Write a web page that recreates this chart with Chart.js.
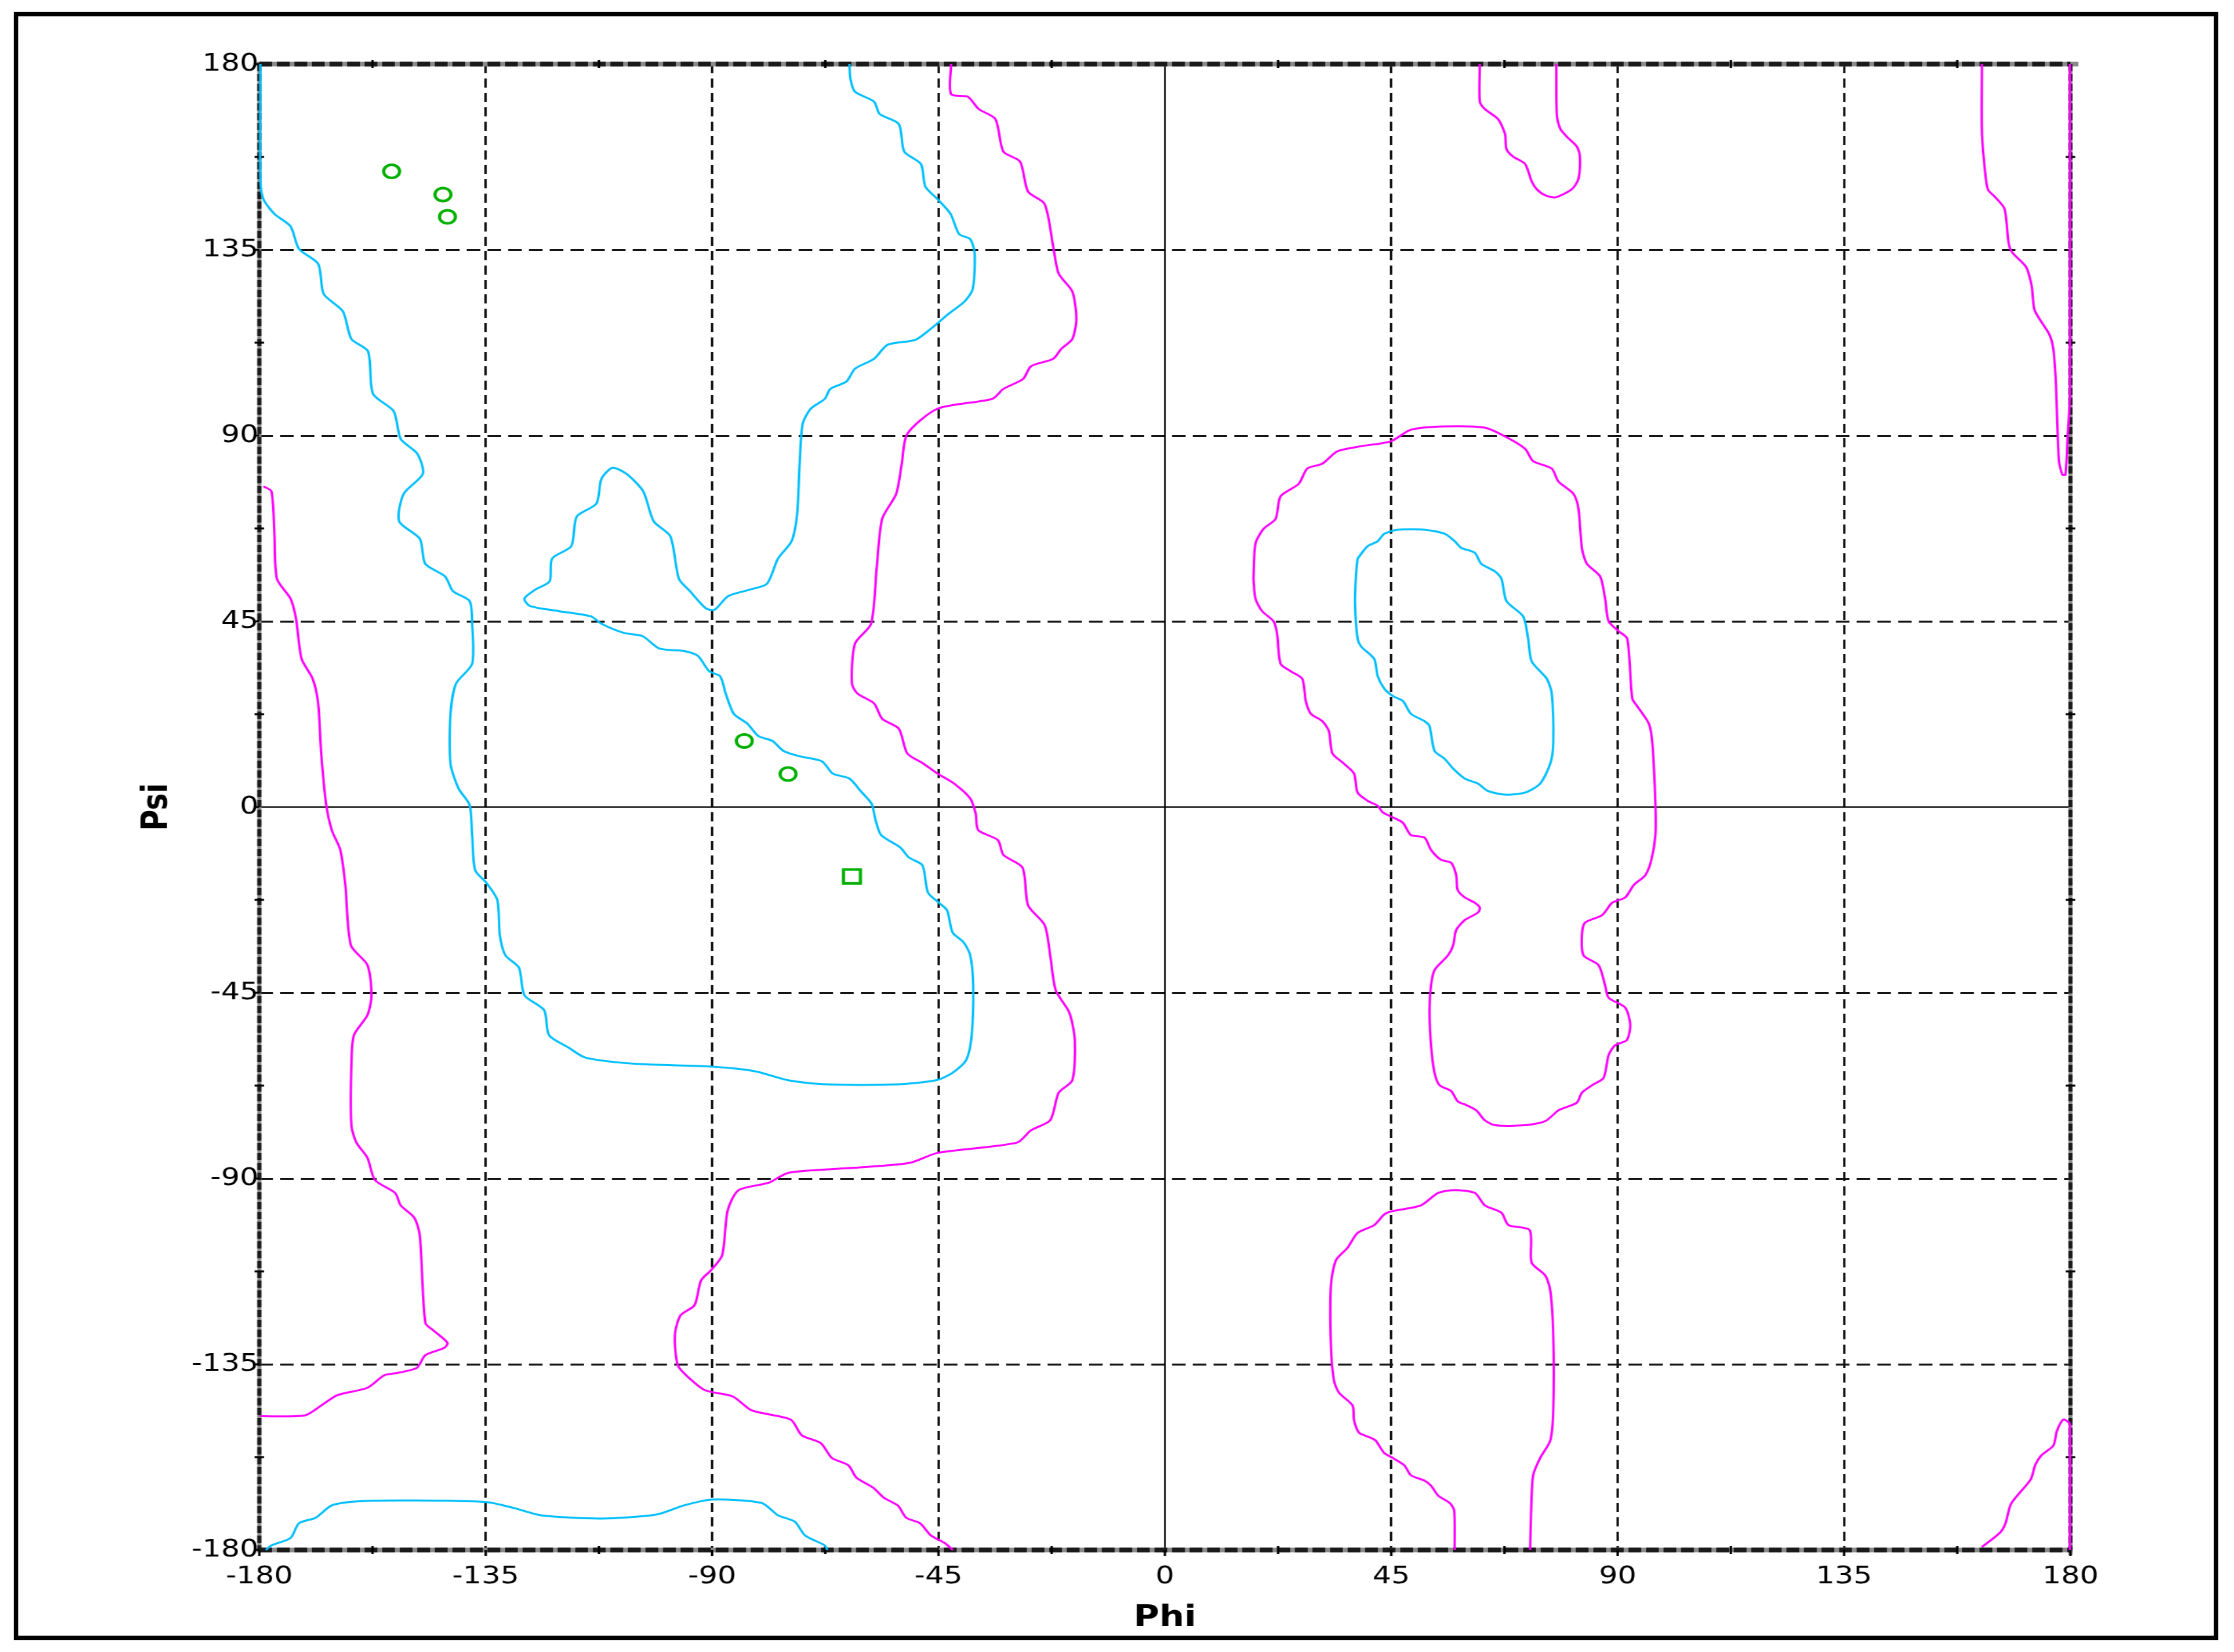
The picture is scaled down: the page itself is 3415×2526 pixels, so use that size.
<!DOCTYPE html>
<html>
<head>
<meta charset="utf-8">
<title>Ramachandran plot</title>
<script src="https://cdn.jsdelivr.net/npm/chart.js@4.4.1/dist/chart.umd.min.js"></script>
<style>
  html, body { margin: 0; padding: 0; background: #fff; overflow: hidden; }
  #wrap { position: relative; width: 3415px; height: 2526px; }
  #rama { position: absolute; left: 0; top: 0; }
  #frame { position: absolute; left: 21px; top: 18px; width: 3370px; height: 2490px;
           border: 7px solid #000; box-sizing: border-box; pointer-events: none; }
</style>
</head>
<body>
<div id="wrap">
  <!-- drawn at 2800 wide, shown at 3415 wide: the reference is stretched sideways -->
  <canvas id="rama" width="2800" height="2526" style="width:3415px;height:2526px"></canvas>
  <div id="frame"></div>
</div>
<script>
// tick values / labels
const phiTicks = [-180, -135, -90, -45, 0, 45, 90, 135, 180];
const psiTicks = [-180, -135, -90, -45, 0, 45, 90, 135, 180];
const phiLabels = ['-180', '-135', '-90', '-45', '0', '45', '90', '135', '180'];
const psiLabels = ['-180', '-135', '-90', '-45', '0', '45', '90', '135', '180'];

// residues [phi, psi]
const residueCircles = [[-153.7, 154.0], [-143.5, 148.4], [-142.6, 143.0], [-83.6, 16.0], [-74.9, 8.0]];
const residueSquares = [[-62.2, -16.8]];

// contours, traced as [phi, psi]
const cyanMain = [[-179.8,180],[-179.8,152.2],[-179.2,147.3],[-177.0,143.7],[-173.8,140.7],[-172.1,135.2],[-168.3,131.6],[-167.2,124.3],[-163.4,120.1],[-161.7,113.4],[-158.4,110.4],[-157.4,100.1],[-153.3,95.9],[-151.9,89.2],[-148.6,85.6],[-147.5,80.7],[-151.3,75.9],[-152.2,69.2],[-148.1,65.0],[-147.0,58.9],[-143.1,55.9],[-141.5,52.3],[-138.2,49.9],[-137.7,44.4],[-137.7,34.7],[-140.9,29.9],[-142.0,22.6],[-142.0,10.5],[-140.4,4.5],[-138.2,0.5],[-137.7,-6.8],[-137.1,-15.3],[-134.9,-18.3],[-132.7,-22.5],[-132.2,-31.0],[-131.1,-35.9],[-128.4,-38.9],[-127.3,-45.6],[-123.4,-49.2],[-122.4,-55.3],[-118.5,-58.3],[-115.2,-60.7],[-105.4,-62.2],[-90,-62.9],[-81.5,-64.0],[-74.9,-66.2],[-67.3,-67.2],[-53.1,-67.2],[-45.5,-66.2],[-42.2,-64.4],[-39.5,-61.3],[-38.4,-55.3],[-38.1,-43.2],[-38.7,-35.9],[-40.0,-32.8],[-42.2,-30.4],[-43.3,-25.0],[-44.9,-23.2],[-47.1,-20.7],[-48.2,-14.1],[-50.9,-12.2],[-52.6,-9.8],[-56.4,-6.8],[-57.5,-3.2],[-58.3,0.8],[-60.5,3.9],[-62.7,6.9],[-66.0,8.1],[-68.2,11.1],[-72.6,12.3],[-75.8,13.6],[-78.0,16.0],[-80.8,17.2],[-83.0,20.2],[-85.7,22.6],[-87.3,27.5],[-88.4,31.7],[-90.6,32.9],[-92.8,36.6],[-95.5,37.8],[-100.5,38.4],[-103.8,41.4],[-107.6,42.2],[-112.0,44.4],[-114.1,46.2],[-120.7,47.5],[-126.2,48.7],[-127.3,50.5],[-125.1,52.7],[-122.3,54.7],[-121.8,60.2],[-118.0,63.2],[-116.9,70.4],[-113.0,73.5],[-112.0,79.5],[-109.8,82.2],[-107.0,80.7],[-103.7,76.5],[-101.6,69.2],[-98.3,65.6],[-96.6,55.3],[-94.4,52.3],[-91.2,48.1],[-89.5,47.8],[-86.8,51.1],[-82.4,52.7],[-79.1,54.1],[-76.9,60.2],[-74.2,64.4],[-73.1,71.0],[-72.6,83.2],[-72.0,92.8],[-70.4,96.5],[-67.6,98.9],[-66.5,101.3],[-63.3,103.1],[-61.6,106.2],[-57.8,108.6],[-55.1,112.0],[-49.6,113.2],[-46.3,116.1],[-43.0,119.5],[-39.8,122.5],[-38.2,125.5],[-37.8,134.0],[-38.7,137.6],[-40.9,138.8],[-42.6,143.7],[-45.2,147.3],[-47.6,150.3],[-48.5,155.8],[-51.8,158.8],[-52.9,165.5],[-56.7,167.9],[-57.8,170.9],[-61.6,173.3],[-62.5,176.4],[-62.7,180]];
const cyanBottom = [[-178.7,-180],[-177.6,-178.9],[-173.8,-177.1],[-172.1,-173.5],[-168.8,-172.2],[-165.6,-169.2],[-160.1,-168.2],[-149.2,-168.0],[-134.9,-168.4],[-129.5,-169.8],[-124.0,-171.6],[-112.0,-172.4],[-101.0,-171.4],[-95.6,-169.2],[-90.1,-167.8],[-80.2,-168.6],[-76.9,-171.6],[-73.6,-173.1],[-71.5,-176.5],[-67.6,-178.9],[-67.1,-180]];
const cyanRight = [[38.3,60.2],[40.3,63.2],[42.3,64.4],[43.6,66.2],[46.3,67.2],[51.6,67.2],[55.6,66.2],[57.6,64.4],[58.9,62.8],[61.6,61.6],[62.9,58.9],[65.6,57.1],[66.9,55.3],[67.9,49.9],[71.2,46.2],[72.2,40.8],[72.9,35.3],[75.9,31.1],[76.9,27.5],[77.2,15.4],[76.6,10.5],[74.6,5.7],[71.6,3.5],[67.6,3.0],[64.2,3.9],[62.2,5.7],[59.6,6.9],[57.3,9.3],[55.6,11.7],[53.6,13.6],[52.6,19.6],[51.6,20.8],[48.9,22.6],[47.3,25.7],[45.3,26.9],[43.6,28.7],[42.3,31.7],[41.6,35.9],[39.0,38.9],[38.3,40.8],[37.8,49.3],[38.0,56.5],[38.3,60.2]];

const magentaLeft = [[-179.2,77.7],[-177.6,76.5],[-177.0,66.2],[-176.5,55.3],[-173.8,50.5],[-172.7,45.6],[-171.6,35.9],[-169.4,31.1],[-168.3,25.1],[-167.7,13.0],[-166.7,0.5],[-165.6,-5.6],[-163.9,-10.4],[-162.9,-18.9],[-161.8,-33.5],[-158.5,-38.3],[-157.7,-45.6],[-158.5,-50.4],[-161.2,-55.3],[-161.7,-62.5],[-161.7,-77.1],[-160.7,-81.3],[-158.5,-85.0],[-157.0,-90.4],[-153.0,-93.5],[-151.9,-96.5],[-149.2,-99.5],[-148.1,-103.8],[-147.0,-125.0],[-145.4,-126.8],[-142.6,-129.8],[-143.2,-131.0],[-147.0,-132.8],[-148.7,-135.9],[-152.5,-137.1],[-155.2,-137.7],[-158.5,-140.7],[-164.5,-142.5],[-167.7,-145.0],[-171.0,-147.4],[-179.8,-147.6]];
const magentaMiddle = [[-42.5,180],[-42.5,172.7],[-39.2,172.1],[-37.0,169.1],[-33.7,166.7],[-32.1,158.8],[-28.8,156.4],[-27.2,149.1],[-23.9,146.1],[-22.2,135.8],[-21.1,129.2],[-18.4,124.9],[-17.6,118.3],[-18.4,113.4],[-20.6,111.0],[-22.2,108.6],[-26.6,106.8],[-28.2,103.7],[-32.1,101.3],[-34.3,98.9],[-45.2,96.5],[-51.2,90.4],[-52.3,83.2],[-53.4,75.9],[-56.2,69.8],[-57.3,57.7],[-58.4,44.4],[-61.6,39.6],[-62.2,29.9],[-61.1,27.5],[-57.8,25.1],[-56.2,21.4],[-52.9,19.0],[-51.2,13.0],[-48.0,10.5],[-45.2,8.1],[-41.9,5.7],[-38.7,2.1],[-37.6,-1.6],[-37.1,-5.6],[-33.2,-8.0],[-32.1,-11.6],[-28.3,-14.7],[-27.2,-23.8],[-23.9,-28.6],[-22.8,-35.9],[-21.7,-44.4],[-19.0,-49.8],[-17.9,-56.5],[-18.4,-66.2],[-21.1,-69.2],[-22.8,-75.9],[-26.6,-78.3],[-29.4,-81.3],[-45.2,-83.8],[-50.7,-86.2],[-61.7,-87.4],[-74.8,-88.6],[-78.7,-91.0],[-84.7,-92.8],[-86.9,-97.7],[-88.0,-108.6],[-90.2,-112.2],[-92.2,-114.7],[-93.5,-120.7],[-96.3,-123.2],[-97.4,-128.0],[-96.8,-135.3],[-94.6,-138.3],[-91.4,-141.3],[-85.9,-142.8],[-82.1,-146.2],[-74.4,-148.4],[-72.2,-152.2],[-68.4,-154.1],[-66.2,-157.7],[-62.9,-159.5],[-61.3,-162.5],[-58.0,-164.9],[-55.8,-167.4],[-53.1,-169.2],[-51.4,-172.2],[-48.7,-173.5],[-46.5,-176.5],[-43.8,-178.3],[-42.1,-180]];
const magentaRight = [[17.6,55.3],[18.0,63.8],[19.6,67.4],[22.0,69.8],[23.0,75.3],[26.6,78.3],[28.3,82.0],[31.3,83.2],[34.3,86.2],[38.9,87.4],[44.9,88.6],[48.9,91.4],[55.6,92.2],[63.6,91.9],[67.6,89.8],[71.6,86.8],[73.2,83.8],[76.9,82.0],[78.2,78.9],[81.2,75.9],[82.2,72.3],[82.9,62.6],[83.9,58.9],[86.5,55.9],[87.5,50.5],[88.2,45.0],[90.2,42.6],[91.9,40.8],[92.9,26.3],[93.9,24.4],[96.2,20.2],[96.9,15.4],[97.5,0.8],[97.5,-6.8],[96.7,-12.8],[95.5,-16.5],[93.2,-18.9],[91.5,-21.9],[88.9,-23.2],[86.9,-26.2],[83.5,-28.0],[82.9,-31.0],[83.2,-35.9],[86.2,-38.3],[87.5,-43.2],[88.2,-46.2],[91.5,-48.6],[92.5,-52.8],[91.8,-56.5],[89.5,-57.7],[88.2,-60.1],[87.2,-65.6],[84.9,-67.4],[82.9,-69.2],[81.9,-71.6],[79.6,-72.8],[78.2,-73.5],[75.6,-76.1],[71.6,-77.1],[65.6,-77.1],[63.6,-75.9],[61.9,-73.5],[59.9,-72.2],[58.2,-71.3],[56.9,-68.8],[54.6,-67.4],[53.6,-64.4],[52.9,-57.7],[52.6,-49.2],[52.9,-43.2],[53.6,-39.5],[56.3,-35.9],[57.3,-33.5],[57.9,-29.8],[59.6,-27.4],[62.2,-25.6],[62.6,-24.4],[61.6,-23.2],[59.6,-21.9],[58.2,-20.1],[57.9,-16.5],[56.9,-13.5],[54.9,-12.8],[52.9,-10.4],[51.6,-7.4],[48.9,-6.8],[47.3,-3.8],[45.3,-2.5],[43.3,-1.3],[42.3,0.3],[40.3,1.5],[38.3,3.5],[37.6,8.1],[35.6,10.5],[33.3,13.0],[32.6,18.4],[31.3,20.8],[29.0,22.6],[28.0,25.7],[27.3,31.1],[25.0,32.9],[23.0,34.7],[22.3,42.0],[21.6,45.0],[19.3,47.5],[18.0,50.5],[17.6,55.3]];
const magentaTopRight = [[62.6,180],[62.6,170.9],[63.6,169.1],[66.2,166.7],[67.6,163.1],[67.9,159.4],[69.2,157.6],[71.6,155.8],[72.9,151.6],[73.9,149.7],[75.6,148.2],[77.6,147.7],[80.9,149.7],[82.2,152.2],[82.5,157.6],[81.9,160.0],[79.9,162.4],[78.6,164.3],[77.9,167.9],[77.8,180]];
const magentaBottomRight = [[57.6,-180],[57.5,-170.4],[56.6,-168.6],[54.3,-166.8],[52.9,-164.4],[51.6,-163.2],[48.9,-161.9],[47.6,-159.5],[45.3,-157.7],[43.6,-156.5],[41.9,-153.5],[40.9,-152.8],[38.6,-151.6],[37.6,-148.6],[37.3,-145.0],[34.6,-141.9],[33.6,-138.9],[33.0,-130.4],[33.0,-115.9],[34.0,-109.8],[36.3,-106.8],[38.3,-103.2],[41.6,-101.3],[43.6,-98.7],[44.9,-98.0],[50.9,-96.5],[54.3,-93.5],[57.6,-92.8],[61.6,-93.5],[63.6,-96.5],[66.9,-98.3],[68.3,-101.3],[72.5,-102.5],[72.9,-110.4],[75.6,-113.5],[76.6,-117.1],[77.2,-128.0],[77.2,-146.2],[76.6,-153.5],[74.6,-157.7],[73.2,-161.9],[72.8,-170.4],[72.6,-180]];
const magentaEdgeTop = [[162.4,180],[162.4,163.6],[163.0,154.3],[163.6,149.6],[165.1,147.7],[166.9,144.9],[167.7,136.7],[168.4,134.4],[171.2,130.8],[172.3,126.2],[172.9,120.3],[175.8,114.5],[176.6,110.9],[177.1,102.8],[177.7,84.0],[178.4,80.5],[179.0,80.5],[179.4,88.7],[179.9,100.4],[179.9,180]];
const magentaEdgeBottom = [[162.4,-179.3],[166.0,-175.8],[167.1,-173.5],[168.2,-168.8],[172.1,-162.9],[173.0,-159.4],[174.2,-157.1],[176.6,-154.7],[177.3,-151.2],[178.6,-148.4],[179.9,-149.6],[179.9,-180]];

const CYAN = '#00bfff';
const MAGENTA = '#ff00ff';
const GREEN = '#00b000';

const toXY = pts => pts.map(p => ({ x: p[0], y: p[1] }));

function contour(pts, color) {
  return {
    data: toXY(pts),
    showLine: true,
    borderColor: color,
    borderWidth: 3,
    pointRadius: 0,
    tension: 0.25,
    clip: 5
  };
}

// frame of the plot: solid zero lines, dashed edges, small ticks
const ramaFrame = {
  id: 'ramaFrame',
  beforeDatasetsDraw(chart) {
    const { ctx, chartArea: a, scales: { x, y } } = chart;
    const seg = (x1, y1, x2, y2) => { ctx.beginPath(); ctx.moveTo(x1, y1); ctx.lineTo(x2, y2); ctx.stroke(); };
    ctx.save();
    ctx.strokeStyle = '#000';
    ctx.lineWidth = 2;
    const x0 = x.getPixelForValue(0), y0 = y.getPixelForValue(0);
    seg(x0, a.top, x0, a.bottom);
    seg(a.left, y0, a.right, y0);

    // edges: gray underlay + black dashes
    ctx.setLineDash([]);
    ctx.strokeStyle = '#8a8a8a';
    ctx.lineWidth = 7;
    seg(a.left - 3, a.top, a.right + 10, a.top);
    seg(a.left - 3, a.bottom, a.right + 3, a.bottom);
    ctx.lineWidth = 5;
    seg(a.left, a.top - 3, a.left, a.bottom + 3);
    seg(a.right, a.top - 3, a.right, a.bottom + 8);
    ctx.strokeStyle = '#1a1a1a';
    ctx.lineWidth = 7;
    ctx.setLineDash([16, 6]);
    seg(a.left, a.top, a.right, a.top);
    seg(a.left, a.bottom, a.right, a.bottom);
    ctx.lineWidth = 5;
    ctx.setLineDash([11, 4]);
    seg(a.left, a.top, a.left, a.bottom);
    seg(a.right, a.top, a.right, a.bottom);

    // ticks
    ctx.setLineDash([]);
    ctx.lineWidth = 3;
    ctx.strokeStyle = '#000';
    phiTicks.forEach((v, i) => {
      const px = x.getPixelForValue(v);
      seg(px, a.bottom, px, a.bottom + 9);
      if (i < phiTicks.length - 1) {
        const pm = x.getPixelForValue(v + 22.5);
        seg(pm, a.bottom - 6, pm, a.bottom + 6);
        seg(pm, a.top - 6, pm, a.top + 6);
      }
    });
    psiTicks.forEach((v, i) => {
      const py = y.getPixelForValue(v);
      seg(a.left - 5, py, a.left, py);
      if (i < psiTicks.length - 1) {
        const pm = y.getPixelForValue(v + 22.5);
        seg(a.left - 6, pm, a.left + 6, pm);
        seg(a.right - 6, pm, a.right + 6, pm);
      }
    });
    ctx.restore();
  }
};

const hideEdges = c => (c.tick && (c.tick.value === 0 || Math.abs(c.tick.value) === 180)) ? 'rgba(0,0,0,0)' : '#141414';

new Chart(document.getElementById('rama'), {
  type: 'scatter',
  data: {
    datasets: [
      { data: toXY(residueCircles), pointStyle: 'circle', pointRadius: 10, borderWidth: 4,
        borderColor: GREEN, backgroundColor: 'rgba(0,0,0,0)' },
      { data: toXY(residueSquares), pointStyle: 'rect', pointRadius: 15, borderWidth: 4,
        borderColor: GREEN, backgroundColor: 'rgba(0,0,0,0)' },
      contour(cyanMain, CYAN),
      contour(cyanBottom, CYAN),
      contour(cyanRight, CYAN),
      contour(magentaLeft, MAGENTA),
      contour(magentaMiddle, MAGENTA),
      contour(magentaRight, MAGENTA),
      contour(magentaTopRight, MAGENTA),
      contour(magentaBottomRight, MAGENTA),
      contour(magentaEdgeTop, MAGENTA),
      contour(magentaEdgeBottom, MAGENTA)
    ]
  },
  options: {
    responsive: false,
    animation: false,
    devicePixelRatio: 1,
    layout: { padding: { left: 0, right: 205, top: 98, bottom: 0 } },
    plugins: { legend: { display: false }, tooltip: { enabled: false } },
    scales: {
      x: {
        type: 'linear', position: 'bottom', min: -180, max: 180,
        afterBuildTicks: s => { s.ticks = phiTicks.map(v => ({ value: v })); },
        afterFit: s => { s.height = 156; },
        ticks: {
          autoSkip: false, maxRotation: 0, padding: 19, color: '#000',
          font: { family: 'DejaVu Sans', size: 37 },
          callback: (v, i) => phiLabels[i]
        },
        grid: { color: hideEdges, lineWidth: 3, drawTicks: false },
        border: { display: false, dash: [14, 8] },
        title: { display: true, text: 'Phi', color: '#000',
                 font: { family: 'DejaVu Sans', size: 44, weight: 'bold' }, padding: { top: 0, bottom: 25 } }
      },
      y: {
        type: 'linear', min: -180, max: 180,
        afterBuildTicks: s => { s.ticks = psiTicks.map(v => ({ value: v })); },
        afterFit: s => { s.width = 325; },
        ticks: {
          autoSkip: false, padding: 1, color: '#000',
          font: { family: 'DejaVu Sans', size: 37 },
          callback: (v, i) => psiLabels[i]
        },
        grid: { color: hideEdges, lineWidth: 3, drawTicks: false },
        border: { display: false, dash: [17, 9] },
        title: { display: true, text: 'Psi', color: '#000',
                 font: { family: 'DejaVu Sans', size: 44, weight: 'bold' }, padding: { top: 171, bottom: 0 } }
      }
    }
  },
  plugins: [ramaFrame]
});
</script>
</body>
</html>
